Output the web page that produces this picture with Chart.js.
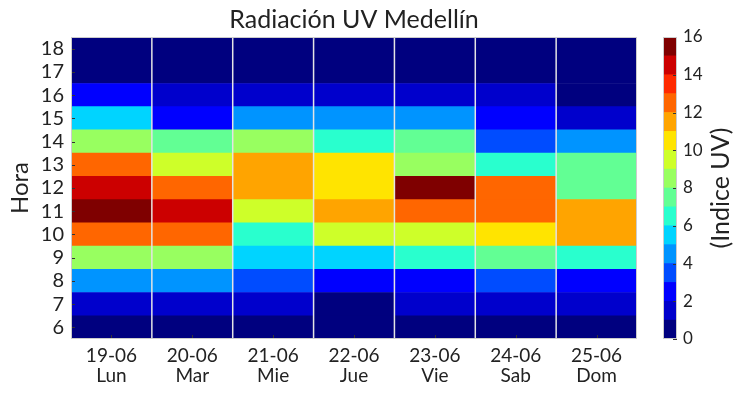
<!DOCTYPE html>
<html>
<head>
<meta charset="utf-8">
<script src="https://cdn.jsdelivr.net/npm/chart.js@4.4.0/dist/chart.umd.min.js"></script>
<style>
  html, body { margin: 0; padding: 0; background: #fff; }
  #wrap { position: relative; width: 743px; height: 395px; }
  #main { position: absolute; left: 0; top: 0; width: 650px; height: 395px; }
  #bar { position: absolute; left: 650px; top: 0; width: 93px; height: 395px; }
</style>
</head>
<body>
<div id="wrap">
  <div id="main"><canvas id="uvChart"></canvas></div>
  <div id="bar"><canvas id="cbChart"></canvas></div>
</div>
<script>
// dias y horas
const days = ['19-06', '20-06', '21-06', '22-06', '23-06', '24-06', '25-06'];
const weekdays = ['Lun', 'Mar', 'Mie', 'Jue', 'Vie', 'Sab', 'Dom'];
const hours = [6, 7, 8, 9, 10, 11, 12, 13, 14, 15, 16, 17, 18];

// indice UV por dia, de 6h a 18h
const uv1906 = [0, 1, 4, 8, 12, 15, 14, 12, 8, 5, 2, 0, 0];
const uv2006 = [0, 1, 4, 8, 12, 14, 12, 9, 7, 2, 1, 0, 0];
const uv2106 = [0, 1, 3, 5, 6, 9, 11, 11, 8, 4, 1, 0, 0];
const uv2206 = [0, 0, 2, 5, 9, 11, 10, 10, 6, 4, 1, 0, 0];
const uv2306 = [0, 1, 2, 6, 9, 12, 15, 8, 7, 4, 1, 0, 0];
const uv2406 = [0, 1, 3, 7, 10, 12, 12, 6, 3, 2, 1, 0, 0];
const uv2506 = [0, 1, 2, 6, 11, 11, 7, 7, 4, 1, 0, 0, 0];
const uvByDay = [uv1906, uv2006, uv2106, uv2206, uv2306, uv2406, uv2506];

// escala de color (jet, 16 niveles)
const cbLevels = [0, 1, 2, 3, 4, 5, 6, 7, 8, 9, 10, 11, 12, 13, 14, 15, 16];
const cbTicks = [0, 2, 4, 6, 8, 10, 12, 14, 16];
const jet = ['#00007f', '#0000cc', '#0000ff', '#004cff', '#0094ff', '#00d4ff', '#29ffce', '#62ff94',
             '#98ff60', '#ceff29', '#ffe400', '#ffa400', '#ff6600', '#ff2a00', '#cc0000', '#7f0000'];

const FONT = 'Lato, "DejaVu Sans", sans-serif';
const TXT = '#222';

function colorFor(v) {
    let i = Math.floor(v);
    if (i < 0) i = 0;
    if (i > jet.length - 1) i = jet.length - 1;
    return jet[i];
}

const frame = {
    id: 'frame',
    afterDatasetsDraw(chart, args, opts) {
        const c = chart.ctx, a = chart.chartArea;
        const x = chart.scales.x, y = chart.scales.y;
        c.save();
        if (opts.columns) {
            c.strokeStyle = '#e4e4e4';
            c.lineWidth = 1.5;
            for (let i = 0; i < x.ticks.length - 1; i++) {
                const px = (x.getPixelForValue(i) + x.getPixelForValue(i + 1)) / 2;
                c.beginPath(); c.moveTo(px, a.top); c.lineTo(px, a.bottom); c.stroke();
            }
        }
        c.strokeStyle = '#333';
        c.lineWidth = 1;
        if (opts.xTicks) {
            x.ticks.forEach((t, i) => {
                const px = Math.round(x.getPixelForValue(i)) + 0.5;
                c.beginPath(); c.moveTo(px, a.bottom); c.lineTo(px, a.bottom - 4); c.stroke();
            });
        }
        y.ticks.forEach(t => {
            const py = Math.round(y.getPixelForValue(t.value)) + 0.5;
            c.beginPath();
            if (opts.yRight) { c.moveTo(a.right, py); c.lineTo(a.right - 4, py); }
            else { c.moveTo(a.left, py); c.lineTo(a.left + 4, py); }
            c.stroke();
        });
        c.strokeStyle = '#cccccc';
        c.lineWidth = 1;
        c.strokeRect(Math.round(a.left) + 0.5, Math.round(a.top) + 0.5,
                     Math.round(a.right - a.left) - 1, Math.round(a.bottom - a.top) - 1);
        if (opts.sideTitle) {
            c.fillStyle = TXT;
            c.font = '25px ' + FONT;
            c.textAlign = 'center';
            c.textBaseline = 'middle';
            c.translate(opts.sideTitle.x, (a.top + a.bottom) / 2);
            c.rotate(-Math.PI / 2);
            c.fillText(opts.sideTitle.text, 0, 0);
        }
        c.restore();
    }
};

const rows = hours.map((h, k) => ({
    label: h + 'h',
    data: days.map(() => [h - 0.5, h + 0.5]),
    backgroundColor: ctx => colorFor(uvByDay[ctx.dataIndex][k]),
    borderWidth: 0,
    grouped: false,
    barPercentage: 1,
    categoryPercentage: 1
}));

new Chart(document.getElementById('uvChart'), {
    type: 'bar',
    data: {
        labels: days.map((d, i) => [d, weekdays[i]]),
        datasets: rows
    },
    options: {
        responsive: true,
        maintainAspectRatio: false,
        animation: false,
        layout: { padding: { left: 0, right: 13, top: 0, bottom: 0 } },
        plugins: {
            legend: { display: false },
            tooltip: { enabled: false },
            title: {
                display: true,
                fullSize: false,
                text: 'Radiación UV Medellín',
                color: TXT,
                font: { family: FONT, size: 25, weight: 'normal', lineHeight: 1.2 },
                padding: { top: 5, bottom: 2 }
            },
            frame: { columns: true, xTicks: true }
        },
        scales: {
            x: {
                grid: { display: false, drawTicks: false },
                border: { display: false },
                ticks: { color: TXT, font: { family: FONT, size: 19, lineHeight: 1.1 }, padding: 6 },
                afterFit: s => { s.height = 56; }
            },
            y: {
                min: 5.5,
                max: 18.5,
                grid: { display: false, drawTicks: false },
                border: { display: false },
                afterBuildTicks: s => { s.ticks = hours.map(v => ({ value: v })); },
                ticks: { color: TXT, font: { family: FONT, size: 20 }, padding: 7, autoSkip: false },
                title: {
                    display: true,
                    text: 'Hora',
                    color: TXT,
                    font: { family: FONT, size: 24 },
                    padding: { top: 6, bottom: 0 }
                },
                afterFit: s => { s.width = 71; }
            }
        }
    },
    plugins: [frame]
});

// barra de color
const cbSets = jet.map((col, i) => ({
    data: [[cbLevels[i], cbLevels[i + 1]]],
    backgroundColor: col,
    borderWidth: 0,
    grouped: false,
    barPercentage: 1,
    categoryPercentage: 1
}));

new Chart(document.getElementById('cbChart'), {
    type: 'bar',
    data: { labels: [''], datasets: cbSets },
    options: {
        responsive: true,
        maintainAspectRatio: false,
        animation: false,
        layout: { padding: { left: 13, right: 0, top: 37, bottom: 56 } },
        plugins: {
            legend: { display: false },
            tooltip: { enabled: false },
            frame: { columns: false, xTicks: false, yRight: true, sideTitle: { x: 71, text: '(Indice UV)' } }
        },
        scales: {
            x: { display: false },
            y: {
                position: 'right',
                min: 0,
                max: 16,
                grid: { display: false, drawTicks: false },
                border: { display: false },
                afterBuildTicks: s => { s.ticks = cbTicks.map(v => ({ value: v })); },
                ticks: { color: TXT, font: { family: FONT, size: 17 }, padding: 6, autoSkip: false },
                afterFit: s => { s.width = 66; }
            }
        }
    },
    plugins: [frame]
});
</script>
</body>
</html>
